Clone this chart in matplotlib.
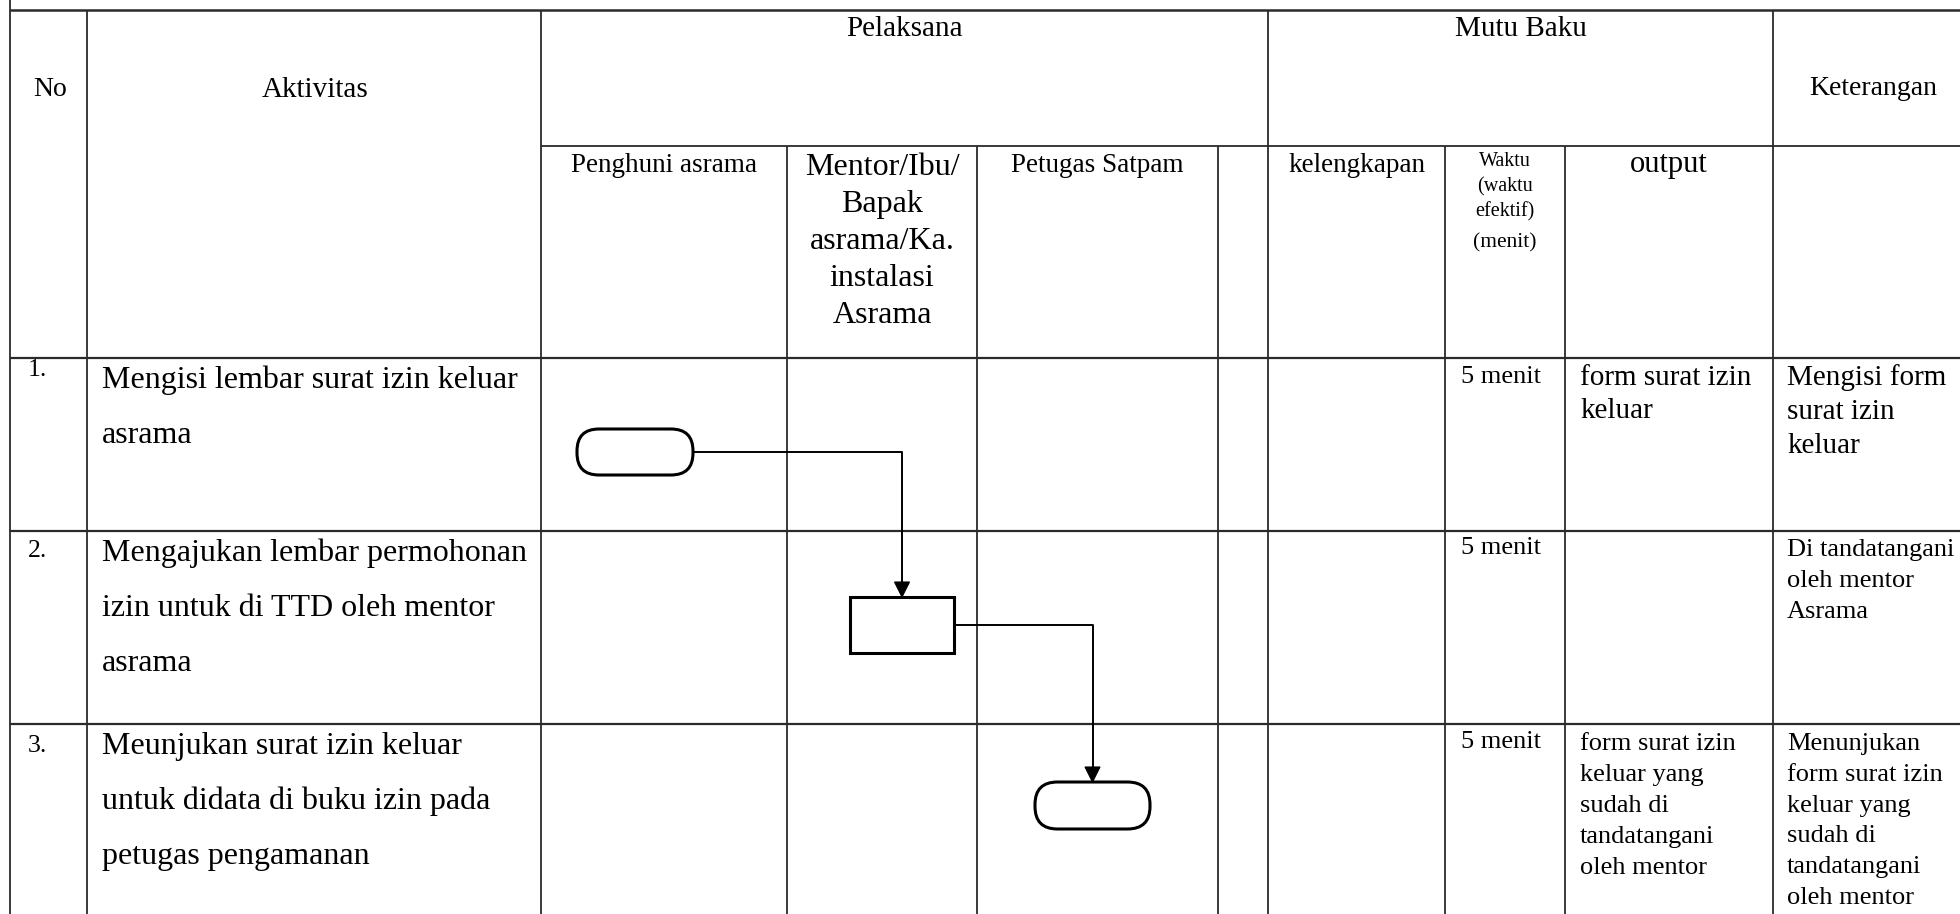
"""SOP flowchart table: izin keluar asrama (3 steps), drawn in pixel coordinates."""
import matplotlib
matplotlib.use("Agg")
import matplotlib.pyplot as plt
from matplotlib.patches import FancyBboxPatch, Rectangle, Polygon

plt.rcParams["font.family"] = ["Liberation Serif", "DejaVu Serif"]

W, H = 1960, 914

# ---- table content ----
HEAD_TOP = ["No", "Aktivitas", "Pelaksana", "Mutu Baku", "Keterangan"]
PELAKSANA = ["Penghuni asrama",
             ["Mentor/Ibu/", "Bapak", "asrama/Ka.", "instalasi", "Asrama"],
             "Petugas Satpam", ""]
MUTU_BAKU = ["kelengkapan", ["Waktu", "(waktu", "efektif)", "(menit)"], "output"]

NOMOR = ["1.", "2.", "3."]
AKTIVITAS = [
    ["Mengisi lembar surat izin keluar", "asrama"],
    ["Mengajukan lembar permohonan", "izin untuk di TTD oleh mentor", "asrama"],
    ["Meunjukan surat izin keluar", "untuk didata di buku izin pada",
     "petugas pengamanan"],
]
KELENGKAPAN = ["", "", ""]
WAKTU = ["5 menit", "5 menit", "5 menit"]
OUTPUT = [
    ["form surat izin", "keluar"],
    [],
    ["form surat izin", "keluar yang", "sudah di", "tandatangani", "oleh mentor"],
]
KETERANGAN = [
    ["Mengisi form", "surat izin", "keluar"],
    ["Di tandatangani", "oleh mentor", "Asrama"],
    ["Menunjukan", "form surat izin", "keluar yang", "sudah di",
     "tandatangani", "oleh mentor"],
]
SIMBOL = ["terminator", "proses", "terminator"]

# ---- layout (pixels) ----
COL_X = [10, 87, 541, 787, 977, 1218, 1268, 1445, 1565, 1773]
Y_TOP, Y_SUB, Y_HEAD = 10, 146, 358
ROW_Y = [358, 531, 724, H]
# shape boxes: (x0, y0, x1, y1)
SHAPES = [(577, 429, 693, 475), (850, 597, 954, 653), (1035, 782, 1150, 829)]

GRID = "#2a2a2a"
LW = 1.3

fig = plt.figure(figsize=(W / 100, H / 100), dpi=100)
ax = fig.add_axes([0, 0, 1, 1])
ax.set_xlim(0, W)
ax.set_ylim(H, 0)
ax.axis("off")


def hline(y, x0, x1, lw=LW):
    ax.plot([x0, x1], [y, y], color=GRID, lw=lw, solid_capstyle="butt")


def vline(x, y0, y1, lw=LW):
    ax.plot([x, x], [y0, y1], color=GRID, lw=lw, solid_capstyle="butt")


def lines_at(x, y0, lines, size, dy, ha="left"):
    for i, s in enumerate(lines):
        ax.text(x, y0 + i * dy, s, fontsize=size, ha=ha, va="baseline")


# grid
hline(Y_TOP, COL_X[0], W, lw=1.8)
hline(Y_SUB, COL_X[2], W)
for y in ROW_Y[:-1]:
    hline(y, COL_X[0], W, lw=1.6)
vline(COL_X[0], 0, H)
for x in (COL_X[1], COL_X[2], COL_X[6], COL_X[9]):
    vline(x, Y_TOP, H)
for x in (COL_X[3], COL_X[4], COL_X[5], COL_X[7], COL_X[8]):
    vline(x, Y_SUB, H)

# header
ax.text(50, 96, HEAD_TOP[0], fontsize=20, ha="center", va="baseline")
ax.text(315, 97, HEAD_TOP[1], fontsize=21, ha="center", va="baseline")
ax.text((COL_X[2] + COL_X[6]) / 2, 36, HEAD_TOP[2], fontsize=21, ha="center", va="baseline")
ax.text((COL_X[6] + COL_X[9]) / 2, 36, HEAD_TOP[3], fontsize=21, ha="center", va="baseline")
ax.text(1873, 95, HEAD_TOP[4], fontsize=20, ha="center", va="baseline")

for i, lab in enumerate(PELAKSANA):
    cx = (COL_X[2 + i] + COL_X[3 + i]) / 2
    if isinstance(lab, list):
        lines_at(cx, 175, lab, 23, 37, ha="center")
    elif lab:
        ax.text(cx, 172, lab, fontsize=19.5, ha="center", va="baseline")

for i, lab in enumerate(MUTU_BAKU):
    cx = (COL_X[6 + i] + COL_X[7 + i]) / 2
    if isinstance(lab, list):
        lines_at(cx, 166, lab[:3], 14.5, 25, ha="center")
        ax.text(cx, 247, lab[3], fontsize=15.5, ha="center", va="baseline")
    else:
        ax.text(cx, 172, lab, fontsize=19.5 if i == 0 else 22, ha="center", va="baseline")

# rows
num_base = [376, 557, 752]
act_base = [388, 561, 754]
right_base = [384, 555, 749]
out_size = [21, 19, 19]
out_dy = [33, 31, 31]
ket_size = [21, 19, 19]
ket_dy = [34, 31, 30.8]
for r in range(3):
    ax.text(28, num_base[r], NOMOR[r], fontsize=18.5, va="baseline")
    lines_at(102, act_base[r], AKTIVITAS[r], 23, 55)
    if KELENGKAPAN[r]:
        ax.text(1275, right_base[r], KELENGKAPAN[r], fontsize=19, va="baseline")
    ax.text(1461, right_base[r] - 1, WAKTU[r], fontsize=19, va="baseline")
    lines_at(1580, right_base[r] + 1, OUTPUT[r], out_size[r], out_dy[r])
    lines_at(1787, right_base[r] + 1, KETERANGAN[r], ket_size[r], ket_dy[r])

# flowchart symbols
for kind, (x0, y0, x1, y1) in zip(SIMBOL, SHAPES):
    if kind == "terminator":
        rad = (y1 - y0) / 2 - 1
        p = FancyBboxPatch((x0, y0), x1 - x0, y1 - y0,
                           boxstyle=f"round,pad=0,rounding_size={rad}",
                           fc="white", ec="black", lw=2.2, zorder=3)
    else:
        p = Rectangle((x0, y0), x1 - x0, y1 - y0, fc="white", ec="black",
                      lw=2.2, zorder=3)
    ax.add_patch(p)


def connector(a, b):
    x0, y0, x1, y1 = a
    bx0, by0, bx1, by1 = b
    sy = (y0 + y1) / 2
    tx = (bx0 + bx1) / 2
    head = 15
    ax.plot([x1, tx, tx], [sy, sy, by0 - head], color="black", lw=1.4, zorder=4)
    ax.add_patch(Polygon([[tx - 7.5, by0 - head], [tx + 7.5, by0 - head], [tx, by0]],
                         closed=True, fc="black", ec="black", lw=0.8, zorder=4))


for k in range(len(SHAPES) - 1):
    connector(SHAPES[k], SHAPES[k + 1])

fig.savefig("out.png", dpi=100)
